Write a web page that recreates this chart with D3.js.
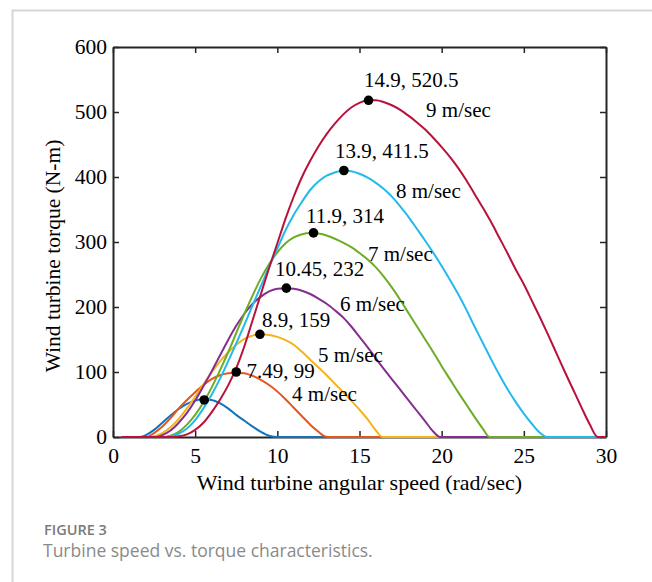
<!DOCTYPE html>
<html>
<head>
<meta charset="utf-8">
<script src="https://cdn.jsdelivr.net/npm/d3@7"></script>
<style>
  body { margin: 0; background: #fff; }
  svg { display: block; }
</style>
</head>
<body>
<div id="chart"></div>
<script>
// torque curves: [speed rad/s, torque N-m]
const curve3 = [[0.5,0],[1.6,0],[2,3],[2.5,11],[3,22],[3.5,33],[4,43],[4.5,51],[5,56],[5.5,58],[6,57],[6.5,52],[7,44],[7.5,34],[8,25],[8.5,16],[9,8],[9.5,2],[10,0],[30,0]];
const curve4 = [[0.5,0],[2,0],[2.5,6],[3,16],[3.5,29],[4,44],[4.5,57],[5,69],[5.5,80],[6,89],[6.5,95],[7,98],[7.5,99],[8,98],[8.5,94],[9,88],[9.5,80],[10,70],[10.5,58],[11,45],[11.5,32],[12,19],[12.5,8],[12.8,2],[13.1,0],[30,0]];
const curve5 = [[0.5,0],[2.3,0],[2.5,1],[3,6],[3.5,15],[4,28],[4.5,44],[5,62],[5.5,81],[6,99],[6.5,116],[7,130],[7.5,142],[8,151],[8.5,156],[9,158],[9.5,157],[10,154],[10.5,149],[11,142],[11.5,131],[12,119],[12.5,107],[13,95],[13.5,82],[14,69],[14.5,56],[15,42],[15.5,27],[16,10],[16.4,0],[30,0]];
const curve6 = [[0.5,0],[2.6,0],[3,3],[3.5,10],[4,22],[4.5,37],[5,56],[5.5,78],[6,101],[6.5,125],[7,149],[7.5,171],[8,190],[8.5,205],[9,216],[9.5,224],[10,228],[10.5,229],[11,228],[11.5,225],[12,220],[12.5,213],[13,205],[13.5,195],[14,184],[14.5,170],[15,154],[15.5,138],[16,121],[16.5,104],[17,88],[17.5,72],[18,56],[18.5,40],[19,24],[19.5,8],[19.9,0],[30,0]];
const curve7 = [[0.5,0],[3,0],[3.5,2],[4,8],[4.5,19],[5,34],[5.5,53],[6,76],[6.5,102],[7,130],[7.5,160],[8,190],[8.5,218],[9,244],[9.5,266],[10,284],[10.5,298],[11,307],[11.5,312],[12,314],[12.5,313],[13,310],[13.5,305],[14,299],[14.5,292],[15,283],[15.5,273],[16,261],[16.5,246],[17,229],[17.5,210],[18,190],[18.5,170],[19,150],[19.5,130],[20,109],[20.5,89],[21,69],[21.5,50],[22,31],[22.5,13],[22.9,0],[30,0]];
const curve8 = [[0.5,0],[3.3,0],[3.5,1],[4,5],[4.5,13],[5,26],[5.5,44],[6,65],[6.5,89],[7,116],[7.5,144],[8,173],[8.5,203],[9,232],[9.5,262],[10,290],[10.5,318],[11,342],[11.5,362],[12,380],[12.5,393],[13,402],[13.5,407],[14,410],[14.5,409],[15,405],[15.5,399],[16,391],[16.5,381],[17,369],[17.5,354],[18,338],[18.5,320],[19,302],[19.5,283],[20,263],[20.5,242],[21,220],[21.5,196],[22,170],[22.5,145],[23,120],[23.5,96],[24,74],[24.5,54],[25,36],[25.5,20],[26,6],[26.4,0],[30,0]];
const curve9 = [[0.5,0],[3.7,0],[4,1],[4.5,4],[5,11],[5.5,22],[6,38],[6.5,57],[7,79],[7.5,106],[8,140],[8.5,180],[9,220],[9.5,260],[10,298],[10.5,336],[11,370],[11.5,400],[12,425],[12.5,447],[13,466],[13.5,482],[14,496],[14.5,507],[15,514],[15.5,518],[16,518],[16.5,515],[17,510],[17.5,503],[18,494],[18.5,484],[19,473],[19.5,460],[20,446],[20.5,431],[21,414],[21.5,395],[22,374],[22.5,353],[23,331],[23.5,307],[24,283],[24.5,258],[25,235],[25.5,209],[26,183],[26.5,156],[27,128],[27.5,100],[28,73],[28.5,46],[29,20],[29.5,0],[30,0]];

const curves = [curve3, curve4, curve5, curve6, curve7, curve8, curve9];
const colors = ["#1172BC", "#E4561B", "#F6B318", "#842E90", "#6DAD26", "#24B9EC", "#B8123B"];

// peak markers (as plotted) and their text
const peakX = [5.55, 7.5, 8.94, 10.55, 12.2, 14.05, 15.55];
const peakY = [57, 100, 158, 229, 314, 410, 518];
const peakText = [null, "7.49, 99", "8.9, 159", "10.45, 232", "11.9, 314", "13.9, 411.5", "14.9, 520.5"];
const peakTextX = [null, 8.13, 9.07, 9.86, 11.75, 13.51, 15.28];
const peakTextY = [null, 91, 169, 248, 329, 429, 538];

// wind speed labels
const speedText = ["4 m/sec", "5 m/sec", "6 m/sec", "7 m/sec", "8 m/sec", "9 m/sec"];
const speedTextX = [10.9, 12.48, 13.82, 15.52, 17.22, 19.05];
const speedTextY = [55, 115, 194, 271, 368, 492];

const xTicks = [0, 5, 10, 15, 20, 25, 30];
const yTicks = [0, 100, 200, 300, 400, 500, 600];

const width = 652, height = 582;
const plotLeft = 113, plotRight = 606, plotTop = 47, plotBottom = 437;
const serif = "'Liberation Serif', 'Times New Roman', serif";

const svg = d3.select("#chart")
  .append("svg")
  .attr("width", width)
  .attr("height", height);

// card frame
svg.append("path")
  .attr("d", `M12.5,${height} V10.5 H${width}`)
  .attr("fill", "none")
  .attr("stroke", "#d6d6d6")
  .attr("stroke-width", 2);

const x = d3.scaleLinear().domain([0, 30]).range([plotLeft, plotRight]);
const y = d3.scaleLinear().domain([0, 600]).range([plotBottom, plotTop]);

// axes box with inward ticks on all four sides
const axisColor = "#262626";
const gx = svg.append("g").attr("transform", `translate(0,${plotBottom})`)
  .call(d3.axisBottom(x).tickValues(xTicks).tickSizeInner(-6).tickSizeOuter(0).tickPadding(11));
const gxTop = svg.append("g").attr("transform", `translate(0,${plotTop})`)
  .call(d3.axisTop(x).tickValues(xTicks).tickSizeInner(-6).tickSizeOuter(0).tickFormat(""));
const gy = svg.append("g").attr("transform", `translate(${plotLeft},0)`)
  .call(d3.axisLeft(y).tickValues(yTicks).tickSizeInner(-6).tickSizeOuter(0).tickPadding(6));
const gyRight = svg.append("g").attr("transform", `translate(${plotRight},0)`)
  .call(d3.axisRight(y).tickValues(yTicks).tickSizeInner(-6).tickSizeOuter(0).tickFormat(""));

[gx, gxTop, gy, gyRight].forEach(g => {
  g.select(".domain").attr("stroke", axisColor).attr("stroke-width", 2);
  g.selectAll(".tick line").attr("stroke", axisColor).attr("stroke-width", 1.5);
  g.selectAll(".tick text")
    .attr("fill", "#000")
    .style("font-family", serif)
    .style("font-size", "21.5px");
});
gx.selectAll(".tick text").attr("dy", "0.72em");

// curves
const line = d3.line()
  .x(d => x(d[0]))
  .y(d => y(d[1]))
  .curve(d3.curveMonotoneX);

curves.forEach((c, i) => {
  svg.append("path")
    .datum(c)
    .attr("d", line)
    .attr("fill", "none")
    .attr("stroke", colors[i])
    .attr("stroke-width", 2)
    .attr("stroke-linejoin", "round");
});

// peak markers
svg.selectAll("circle.peak")
  .data(peakX)
  .enter()
  .append("circle")
  .attr("class", "peak")
  .attr("cx", d => x(d))
  .attr("cy", (d, i) => y(peakY[i]))
  .attr("r", 4.8)
  .attr("fill", "#000");

const labelStyle = (sel, size) => sel
  .attr("fill", "#000")
  .style("font-family", serif)
  .style("font-size", (size || 21) + "px");

peakText.forEach((t, i) => {
  if (!t) return;
  svg.append("text")
    .attr("x", x(peakTextX[i]))
    .attr("y", y(peakTextY[i]))
    .text(t)
    .call(labelStyle);
});

speedText.forEach((t, i) => {
  svg.append("text")
    .attr("x", x(speedTextX[i]))
    .attr("y", y(speedTextY[i]))
    .text(t)
    .call(labelStyle);
});

// axis titles
svg.append("text")
  .attr("x", (plotLeft + plotRight) / 2)
  .attr("y", 490)
  .attr("text-anchor", "middle")
  .text("Wind turbine angular speed (rad/sec)")
  .call(labelStyle, 22);

svg.append("text")
  .attr("transform", "translate(60,256) rotate(-90)")
  .attr("text-anchor", "middle")
  .text("Wind turbine torque (N-m)")
  .call(labelStyle, 21.5);

// caption
svg.append("text")
  .attr("x", 44)
  .attr("y", 534.5)
  .attr("fill", "#7a7a7a")
  .style("font-family", "'Open Sans', sans-serif")
  .style("font-size", "14.5px")
  .style("font-weight", 600)
  .text("FIGURE 3");

svg.append("text")
  .attr("x", 43)
  .attr("y", 556.5)
  .attr("fill", "#8a8a8a")
  .style("font-family", "'Open Sans', sans-serif")
  .style("font-size", "17.5px")
  .text("Turbine speed vs. torque characteristics.");
</script>
</body>
</html>
